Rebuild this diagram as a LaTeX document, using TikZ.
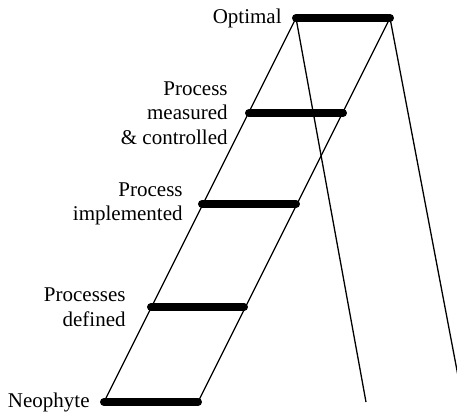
\documentclass[tikz,border=0pt]{standalone}
\usepackage{fontspec}
\setmainfont{Liberation Serif}
\usepackage{tikz}
\usetikzlibrary{positioning}

\begin{document}
\begin{tikzpicture}[
  x=0.5pt, y=-0.5pt,
  rung/.style={line width=4pt, line cap=round},
  rail/.style={line width=0.65pt},
  lab/.style={font=\fontsize{10.5}{12.25}\selectfont, align=right,
              inner sep=0pt}]
\useasboundingbox (0,0) rectangle (457,412);
\clip (0,0) rectangle (457,412);
% rung ends, bottom to top
\coordinate (n1) at (104,402); \coordinate (n2) at (198,402);
\coordinate (d1) at (151,307); \coordinate (d2) at (244,307);
\coordinate (i1) at (202,204); \coordinate (i2) at (296,204);
\coordinate (m1) at (249,113); \coordinate (m2) at (343,113);
\coordinate (o1) at (296,18);  \coordinate (o2) at (390,18);
% feet of the back legs
\coordinate (bl) at (366,402);
\coordinate (br) at (463,402);
\node[lab, left=7pt of o1] (opt) {Optimal};
\node[lab, left=10.5pt of m1] (meas) {Process\\measured\\\& controlled};
\node[lab, left=9.5pt of i1] (impl) {Process\\implemented};
\node[lab, left=12.5pt of d1] (defd) {Processes\\defined};
\node[lab, left=7pt of n1] (neo) {Neophyte};
\draw[rail] (n1) -- (o1);
\draw[rail] (n2) -- (o2);
\draw[rail] (o1) -- (bl);
\draw[rail] (o2) -- (br);
\draw[rung] (n1) -- (n2);
\draw[rung] (d1) -- (d2);
\draw[rung] (i1) -- (i2);
\draw[rung] (m1) -- (m2);
\draw[rung] (o1) -- (o2);
\end{tikzpicture}
\end{document}
